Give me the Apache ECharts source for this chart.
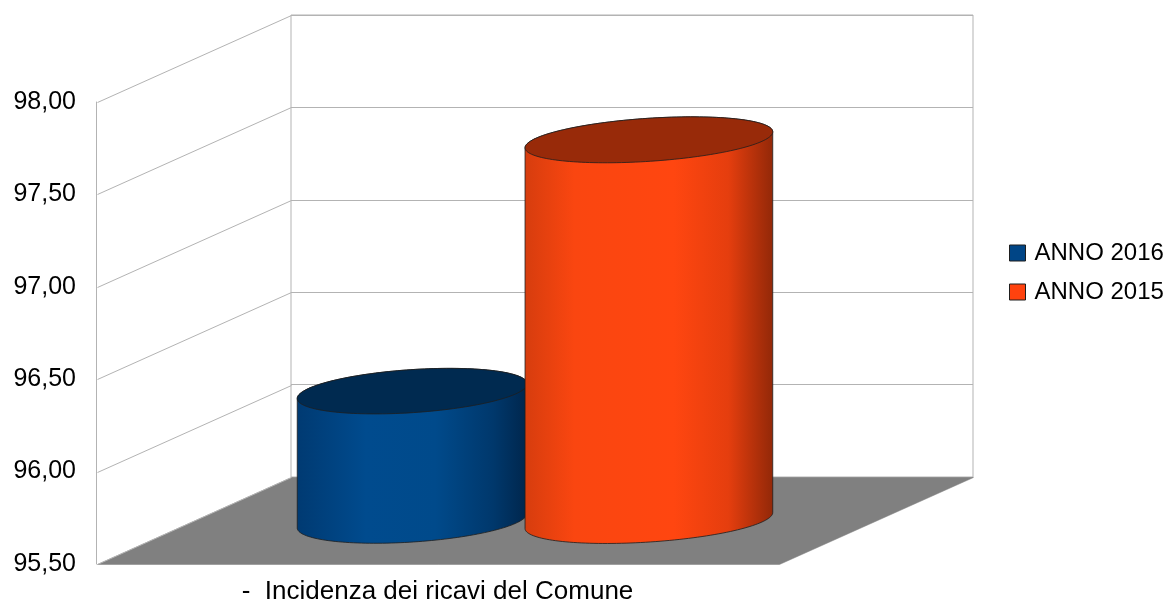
<!DOCTYPE html>
<html>
<head>
<meta charset="utf-8">
<script src="https://cdn.jsdelivr.net/npm/echarts@6/dist/echarts.min.js"></script>
<style>
html,body{margin:0;padding:0;background:#fff;}
#chart{width:1175px;height:612px;}
</style>
</head>
<body>
<div id="chart"></div>
<script>
// ---- data ----
const categories = ['-  Incidenza dei ricavi del Comune'];
const seriesNames = ['ANNO 2016', 'ANNO 2015'];
const values2016 = [96.20];
const values2015 = [97.56];
const yTicks = [95.5, 96, 96.5, 97, 97.5, 98];
const yMin = 95.5, yMax = 98, yStep = 0.5;

// ---- layout / style (not data) ----
const DEPTH = [-194, 87];            // back wall -> front edge offset
const MID = [DEPTH[0] / 2, DEPTH[1] / 2];
const TILT = -3.8 * Math.PI / 180;
const RY = 21.5;
const barLayout = [
  { frac: 0.320, rxFrac: 0.169 },
  { frac: 0.667, rxFrac: 0.182 }
];
const styles = [
  {
    base: '#004586', top: '#002a50',
    stops: [[0, '#003a72'], [0.3, '#004b8e'], [0.6, '#004a8b'], [0.85, '#00386c'], [1, '#00264c']]
  },
  {
    base: '#ff420e', top: '#982a09',
    stops: [[0, '#d63d0e'], [0.2, '#fa4610'], [0.6, '#ff4610'], [0.82, '#e53e0e'], [1, '#922808']]
  }
];
const gridColor = '#b3b3b3';

function pt(cx, cy, rx, ry, t) {
  const c = Math.cos(t), s = Math.sin(t);
  return [cx + rx * c * Math.cos(TILT) - ry * s * Math.sin(TILT),
          cy + rx * c * Math.sin(TILT) + ry * s * Math.cos(TILT)];
}
function arc(cx, cy, rx, ry, t0, t1, n) {
  const out = [];
  for (let i = 0; i <= n; i++) out.push(pt(cx, cy, rx, ry, t0 + (t1 - t0) * i / n));
  return out;
}

function cylinderRender(si) {
  return function (params, api) {
    const cs = params.coordSys;
    const v = api.value(1);
    const topP = api.coord([api.value(0), v]);
    const botP = api.coord([api.value(0), yMin]);
    const cx = cs.x + cs.width * barLayout[si].frac + MID[0];
    const rx = cs.width * barLayout[si].rxFrac;
    const cyT = topP[1] + MID[1];
    const cyB = botP[1] + MID[1];
    const body = arc(cx, cyB, rx, RY, Math.PI, 0, 80).concat(arc(cx, cyT, rx, RY, 0, -Math.PI, 80));
    const topE = arc(cx, cyT, rx, RY, 0, 2 * Math.PI, 160);
    const st = styles[si];
    return {
      type: 'group',
      children: [
        {
          type: 'polygon', shape: { points: body },
          style: {
            fill: { type: 'linear', x: 0, y: 0, x2: 1, y2: 0,
              colorStops: st.stops.map(s => ({ offset: s[0], color: s[1] })) },
            stroke: '#1e1e1e', lineWidth: 0.8
          }
        },
        {
          type: 'polygon', shape: { points: topE },
          style: { fill: st.top, stroke: '#1e1e1e', lineWidth: 0.8 }
        }
      ]
    };
  };
}

function wallRender(params, api) {
  const cs = params.coordSys;
  const t = api.value(1);
  const p = api.coord([0, t]);
  const y = Math.round(p[1]) + 0.5;
  const bx = Math.round(cs.x) + 0.5;
  const children = [];
  if (t === yMin) {
    const yb = y;
    children.push({
      type: 'polygon',
      shape: { points: [[bx + DEPTH[0], yb + DEPTH[1]], [bx, yb], [bx + cs.width, yb], [bx + cs.width + DEPTH[0], yb + DEPTH[1]]] },
      style: { fill: '#808080', stroke: '#808080', lineWidth: 0.5 }
    });
  }
  children.push({
    type: 'line',
    shape: { x1: bx + DEPTH[0], y1: y + DEPTH[1], x2: bx, y2: y },
    style: { stroke: gridColor, lineWidth: 1 }
  });
  return { type: 'group', children: children };
}

const chart = echarts.init(document.getElementById('chart'), null, { renderer: 'canvas' });
const FONT = 'Liberation Sans';
const option = {
  animation: false,
  backgroundColor: '#ffffff',
  textStyle: { fontFamily: FONT },
  legend: {
    data: seriesNames,
    orient: 'vertical',
    left: 1009,
    top: 241,
    padding: 0,
    itemWidth: 16,
    itemHeight: 16,
    itemGap: 15,
    icon: 'rect',
    itemStyle: { borderColor: '#1e1e1e', borderWidth: 1 },
    textStyle: { fontSize: 24, color: '#000', fontFamily: FONT, padding: [0, 0, 0, 4] }
  },
  grid: [
    { left: 291, top: 15, width: 682, height: 462, show: true, borderColor: gridColor, borderWidth: 1, backgroundColor: 'transparent' },
    { left: 96, top: 102, width: 683, height: 462 }
  ],
  xAxis: [
    { type: 'category', gridIndex: 0, data: categories, show: false },
    {
      type: 'category', gridIndex: 1, data: categories,
      axisLine: { show: false }, axisTick: { show: false },
      axisLabel: { fontSize: 26, color: '#000', margin: 15, fontFamily: FONT }
    }
  ],
  yAxis: [
    {
      type: 'value', gridIndex: 0, min: yMin, max: yMax, interval: yStep,
      axisLine: { show: false }, axisTick: { show: false }, axisLabel: { show: false },
      splitLine: { show: true, lineStyle: { color: gridColor, width: 1 } }
    },
    {
      type: 'value', gridIndex: 1, min: yMin, max: yMax, interval: yStep,
      axisLine: { show: true, lineStyle: { color: gridColor, width: 1 } },
      axisTick: { show: false },
      splitLine: { show: false },
      axisLabel: {
        fontSize: 25, color: '#000', margin: 20, fontFamily: FONT,
        formatter: v => v.toFixed(2).replace('.', ',')
      }
    }
  ],
  series: [
    {
      name: 'walls', type: 'custom', xAxisIndex: 0, yAxisIndex: 0, silent: true,
      data: yTicks.map(t => [0, t]),
      renderItem: wallRender, z: 1
    },
    {
      name: seriesNames[0], type: 'custom', xAxisIndex: 0, yAxisIndex: 0, silent: true,
      itemStyle: { color: styles[0].base },
      data: values2016.map((v, i) => [i, v]),
      renderItem: cylinderRender(0), z: 3
    },
    {
      name: seriesNames[1], type: 'custom', xAxisIndex: 0, yAxisIndex: 0, silent: true,
      itemStyle: { color: styles[1].base },
      data: values2015.map((v, i) => [i, v]),
      renderItem: cylinderRender(1), z: 4
    }
  ]
};
chart.setOption(option);
</script>
</body>
</html>
